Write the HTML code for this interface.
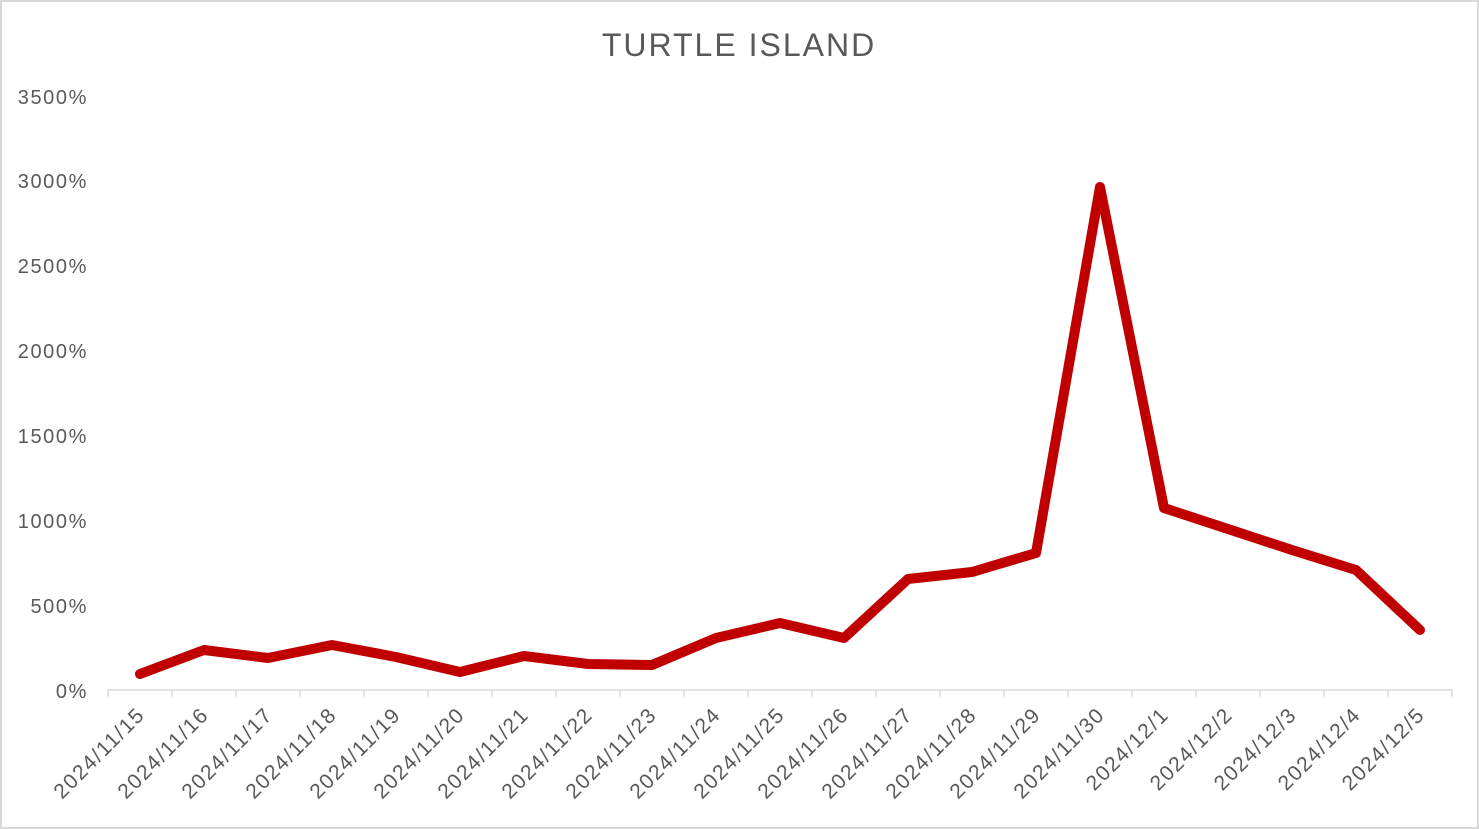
<!DOCTYPE html>
<html><head><style>
html,body{margin:0;padding:0;background:#fff;}
svg{display:block;}
text{font-family:"Liberation Sans",sans-serif;fill:#595959;}
</style></head><body>
<svg width="1479" height="829" viewBox="0 0 1479 829" xmlns="http://www.w3.org/2000/svg">
<rect x="1" y="1" width="1477" height="827" fill="#fff" stroke="#d9d9d9" stroke-width="2"/>
<text x="739" y="56" font-size="32" letter-spacing="2" text-anchor="middle">TURTLE ISLAND</text>
<g font-size="20" letter-spacing="1.6" text-anchor="end">
<text x="88" y="698">0%</text>
<text x="88" y="613">500%</text>
<text x="88" y="528">1000%</text>
<text x="88" y="443">1500%</text>
<text x="88" y="358">2000%</text>
<text x="88" y="273">2500%</text>
<text x="88" y="188">3000%</text>
<text x="88" y="104">3500%</text>
</g>
<g stroke="#d9d9d9" stroke-width="1.5">
<line x1="108" y1="690" x2="1452" y2="690"/>
</g>
<g id="tk" stroke="#d9d9d9" stroke-width="1.5"></g>
<g id="lb" font-size="21" letter-spacing="1.5" text-anchor="end"></g>
<polyline id="ln" fill="none" stroke="#c00000" stroke-width="10" stroke-linejoin="round" stroke-linecap="round" points=""/>
<script>
var ys=[674,650,658,645,657,672,656,664,665,638,623,638,579,572,553,187,508,529,550,570,630];
var labs=["2024/11/15","2024/11/16","2024/11/17","2024/11/18","2024/11/19","2024/11/20","2024/11/21","2024/11/22","2024/11/23","2024/11/24","2024/11/25","2024/11/26","2024/11/27","2024/11/28","2024/11/29","2024/11/30","2024/12/1","2024/12/2","2024/12/3","2024/12/4","2024/12/5"];
var ns="http://www.w3.org/2000/svg",w=(1452-108)/21,pts=[];
var tk=document.getElementById('tk'),lb=document.getElementById('lb');
for(var i=0;i<=21;i++){var x=108+i*w;var l=document.createElementNS(ns,'line');l.setAttribute('x1',x);l.setAttribute('x2',x);l.setAttribute('y1',690);l.setAttribute('y2',697);tk.appendChild(l);}
for(var i=0;i<21;i++){var cx=108+(i+0.5)*w;pts.push(cx+','+ys[i]);
var t=document.createElementNS(ns,'text');t.setAttribute('transform','translate('+(cx+6)+',716) rotate(-45)');t.textContent=labs[i];lb.appendChild(t);}
document.getElementById('ln').setAttribute('points',pts.join(' '));
</script>
</svg>
</body></html>
